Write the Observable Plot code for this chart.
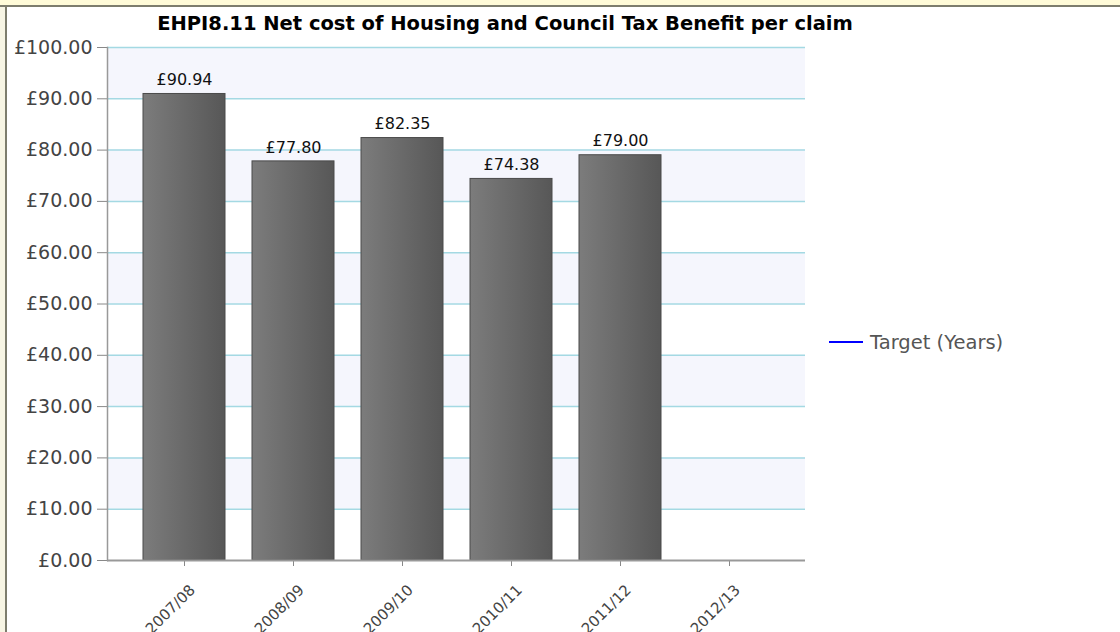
<!DOCTYPE html>
<html>
<head>
<meta charset="utf-8">
<script src="https://cdn.jsdelivr.net/npm/d3@7"></script>
<script src="https://cdn.jsdelivr.net/npm/@observablehq/plot@0.6"></script>
<style>
  html, body { margin: 0; padding: 0; background: #ffffff; }
  #wrap { position: relative; width: 1120px; height: 632px; overflow: hidden; background: #ffffff; }
  #topstrip { position: absolute; left: 0; top: 0; width: 1120px; height: 5px; background: #fffbd8; }
  #topline { position: absolute; left: 0; top: 5px; width: 1120px; height: 2px; background: #7d7d6d; }
  #leftstrip { position: absolute; left: 0; top: 7px; width: 5px; height: 625px; background: #f7f5e4; }
  #leftline { position: absolute; left: 5px; top: 7px; width: 2px; height: 625px; background: #7d7d6d; }
  #title { position: absolute; left: 105px; top: 14px; width: 800px; text-align: center;
           font: bold 19.5px "DejaVu Sans", sans-serif; line-height: 20px; color: #000; white-space: nowrap; }
  #chart { position: absolute; left: 0; top: 0; }
  #legend { position: absolute; left: 829px; top: 331px; height: 22px; font: 19.5px "DejaVu Sans", sans-serif; color: #555; display: flex; align-items: center; white-space: nowrap; }
  #legend .sw { width: 34px; height: 2px; background: #0000ff; margin-right: 7px; }
</style>
</head>
<body>
<div id="wrap">
  <div id="chart"></div>
  <div id="topstrip"></div>
  <div id="topline"></div>
  <div id="leftstrip"></div>
  <div id="leftline"></div>
  <div id="title">EHPI8.11 Net cost of Housing and Council Tax Benefit per claim</div>
  <div id="legend"><div class="sw"></div><span>Target (Years)</span></div>
</div>
<script>
const categories = ["2007/08", "2008/09", "2009/10", "2010/11", "2011/12", "2012/13"];
const values = [90.94, 77.80, 82.35, 74.38, 79.00, null];
const valueLabels = ["£90.94", "£77.80", "£82.35", "£74.38", "£79.00", ""];
const yTicks = [0, 10, 20, 30, 40, 50, 60, 70, 80, 90, 100];
const bandLows = [10, 30, 50, 70, 90];
const bandHighs = [20, 40, 60, 80, 100];

const rows = categories.map((c, i) => ({cat: c, value: values[i], label: valueLabels[i]}));
const bars = rows.filter(d => d.value != null);
const bands = bandLows.map((lo, i) => ({lo, hi: bandHighs[i]}));

const font = "DejaVu Sans, sans-serif";

const svg = Plot.plot({
  width: 1120,
  height: 632,
  marginTop: 47,
  marginBottom: 72,
  marginLeft: 107,
  marginRight: 315,
  style: {background: "transparent", fontFamily: font, overflow: "visible"},
  x: {domain: categories, paddingInner: 0.25, paddingOuter: 0.315, label: null},
  y: {domain: [0, 100], label: null},
  marks: [
    Plot.rect(bands, {y1: "lo", y2: "hi", fill: "#f5f6fd"}),
    Plot.ruleY(yTicks.filter(t => t > 0), {stroke: "#a4d9e3", strokeWidth: 1.5}),
    Plot.barY(bars, {x: "cat", y: "value", fill: "url(#barGrad)", stroke: "#4a4a4a", strokeWidth: 1}),
    Plot.text(bars, {x: "cat", y: "value", text: "label", dy: -14, fontSize: 16, fill: "#111", fontFamily: font}),
    Plot.axisY({ticks: yTicks, tickFormat: d => "£" + d.toFixed(2), tickSize: 10, tickPadding: 5, stroke: "#888", fill: "#444", fontSize: 19, fontFamily: font}),
    Plot.axisX({tickSize: 6, tickFormat: () => "", stroke: "#888"}),
    Plot.text(categories, {x: d => d, y: () => 0, text: d => d, rotate: -45, textAnchor: "end", dx: 8, dy: 27, fontSize: 15, fill: "#444", fontFamily: font}),
    Plot.frame({anchor: "left", stroke: "#999", strokeWidth: 1.5}),
    Plot.ruleY([0], {stroke: "#999", strokeWidth: 2})
  ]
});

// gradient defs for bars
const ns = "http://www.w3.org/2000/svg";
const defs = document.createElementNS(ns, "defs");
const lg = document.createElementNS(ns, "linearGradient");
lg.setAttribute("id", "barGrad");
lg.setAttribute("x1", "0"); lg.setAttribute("x2", "1"); lg.setAttribute("y1", "0"); lg.setAttribute("y2", "0");
[["0%", "#7c7c7c"], ["100%", "#575757"]].forEach(([o, c]) => {
  const s = document.createElementNS(ns, "stop");
  s.setAttribute("offset", o); s.setAttribute("stop-color", c);
  lg.appendChild(s);
});
defs.appendChild(lg);
svg.insertBefore(defs, svg.firstChild);
document.getElementById("chart").appendChild(svg);
</script>
</body>
</html>
